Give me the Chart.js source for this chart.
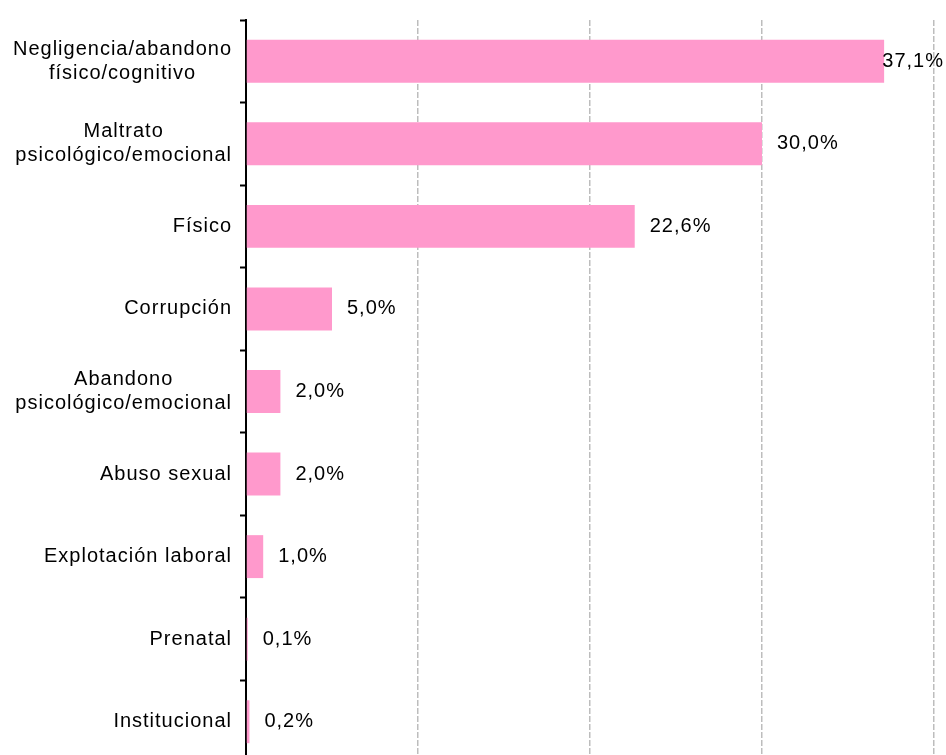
<!DOCTYPE html>
<html>
<head>
<meta charset="utf-8">
<script src="https://cdn.jsdelivr.net/npm/chart.js@4/dist/chart.umd.min.js"></script>
<style>
html,body{margin:0;padding:0;background:#fff;overflow:hidden;}
#wrap{width:946px;height:763px;position:relative;}
</style>
</head>
<body>
<div id="wrap"><canvas id="c"></canvas></div>
<script>
const categories = [
  ["Negligencia/abandono","físico/cognitivo"],
  ["Maltrato","psicológico/emocional"],
  ["Físico"],
  ["Corrupción"],
  ["Abandono","psicológico/emocional"],
  ["Abuso sexual"],
  ["Explotación laboral"],
  ["Prenatal"],
  ["Institucional"]
];
const values = [37.1, 30.0, 22.6, 5.0, 2.0, 2.0, 1.0, 0.1, 0.2];
const valueLabels = ["37,1%","30,0%","22,6%","5,0%","2,0%","2,0%","1,0%","0,1%","0,2%"];
const xTicks = [0, 10, 20, 30, 40];

const FONT = '20px "Liberation Sans", Arial, sans-serif';
const LS = 1; // letter spacing px

function setLS(ctx) { if ('letterSpacing' in ctx) ctx.letterSpacing = LS + 'px'; }
function textW(ctx, t) {
  let w = ctx.measureText(t).width;
  return w;
}

const catLabelPlugin = {
  id: 'catLabels',
  afterDraw(chart) {
    const ctx = chart.ctx;
    const ys = chart.scales.y;
    const rightEdge = ys.right - 15;
    ctx.save();
    ctx.font = FONT;
    setLS(ctx);
    ctx.fillStyle = '#000';
    ctx.textBaseline = 'middle';
    ctx.textAlign = 'left';
    const lh = 24;
    chart.data.labels.forEach((lines, i) => {
      const cy = ys.getPixelForValue(i);
      const ws = lines.map(l => textW(ctx, l) - LS);
      const w = Math.max(...ws);
      const cx = rightEdge - w / 2;
      const y0 = cy - (lines.length - 1) * lh / 2;
      lines.forEach((l, k) => ctx.fillText(l, cx - ws[k] / 2, y0 + k * lh));
    });
    ctx.restore();
  }
};

const valueLabelPlugin = {
  id: 'valLabels',
  afterDatasetsDraw(chart) {
    const ctx = chart.ctx;
    const meta = chart.getDatasetMeta(0);
    ctx.save();
    ctx.font = FONT;
    setLS(ctx);
    ctx.fillStyle = '#000';
    ctx.textBaseline = 'middle';
    ctx.textAlign = 'left';
    meta.data.forEach((bar, i) => {
      const t = valueLabels[i];
      const w = textW(ctx, t) - LS;
      let x = bar.x + 15;
      x = Math.min(x, chart.width - 3 - w);
      ctx.fillText(t, x, bar.y);
    });
    ctx.restore();
  }
};

new Chart(document.getElementById('c'), {
  type: 'bar',
  data: {
    labels: categories,
    datasets: [{
      data: values,
      backgroundColor: '#ff99cc',
      borderWidth: 0,
      categoryPercentage: 1,
      barPercentage: 0.52
    }]
  },
  options: {
    indexAxis: 'y',
    responsive: true,
    maintainAspectRatio: false,
    animation: false,
    layout: { padding: { top: 20, right: 12, left: 0, bottom: 0 } },
    plugins: { legend: { display: false }, tooltip: { enabled: false } },
    scales: {
      x: {
        min: 0, max: 40,
        afterBuildTicks(scale) { scale.ticks = xTicks.map(v => ({ value: v })); },
        afterFit(scale) { scale.height = 0; },
        ticks: { display: false },
        grid: {
          color: (c) => c.tick && c.tick.value === 0 ? 'rgba(0,0,0,0)' : '#bdbdbd',
          lineWidth: 1.5,
          drawTicks: false
        },
        border: { display: false, dash: [6, 2] }
      },
      y: {
        afterFit(scale) { scale.width = 246; },
        ticks: { display: false },
        border: { display: true, color: '#000', width: 2 },
        grid: {
          offset: true,
          drawOnChartArea: false,
          drawTicks: true,
          tickLength: 6,
          tickColor: '#000',
          tickWidth: 2
        }
      }
    }
  },
  plugins: [catLabelPlugin, valueLabelPlugin]
});
</script>
</body>
</html>
